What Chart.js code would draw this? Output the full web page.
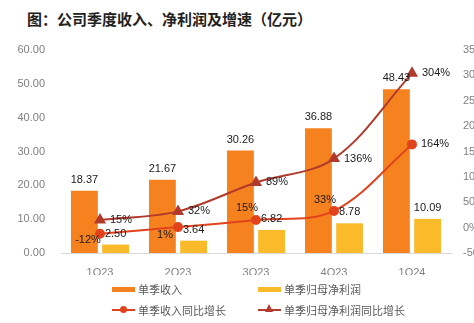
<!DOCTYPE html>
<html>
<head>
<meta charset="utf-8">
<script src="https://cdn.jsdelivr.net/npm/chart.js@4.4.0/dist/chart.umd.min.js"></script>
<style>
  html, body { margin: 0; padding: 0; background: #fff; overflow: hidden; }
  body { width: 474px; height: 323px; position: relative; font-family: "Liberation Sans", "Noto Sans CJK SC", sans-serif; }
  #title { position: absolute; left: 27px; top: 8px; font-family: "Noto Sans CJK SC", sans-serif; font-weight: bold; font-size: 15px; color: #222; white-space: nowrap; }
  #wrap { position: absolute; left: 0; top: 0; width: 500px; height: 323px; }
  .legend { position: absolute; font-family: "Noto Sans CJK SC", sans-serif; font-size: 11px; color: #595959; white-space: nowrap; display: flex; align-items: center; }
  .sw { display: inline-block; width: 23px; height: 5px; margin-right: 3px; position: relative; }
  .ln { display: inline-block; width: 23px; height: 2px; margin-right: 3px; position: relative; }
  .dot { position: absolute; left: 8px; top: -3px; width: 7px; height: 7px; border-radius: 50%; }
  .tri { position: absolute; left: 7px; top: -5px; width: 0; height: 0; border-left: 4.5px solid transparent; border-right: 4.5px solid transparent; border-bottom: 8px solid; }
</style>
</head>
<body>
<div id="title">图：公司季度收入、净利润及增速（亿元）</div>
<div id="wrap"><canvas id="chart" width="500" height="323"></canvas></div>
<div id="legend"></div>
<script>
/* ============================
   QUARTERLY REVENUE / PROFIT CHART
============================ */

// ======== DATA ========
const quarters = ["1Q23", "2Q23", "3Q23", "4Q23", "1Q24"];
const revenue = [18.37, 21.67, 30.26, 36.88, 48.43];
const netProfit = [2.50, 3.64, 6.82, 8.78, 10.09];
const revenueYoy = [-12, 1, 15, 33, 164];
const profitYoy = [15, 32, 89, 136, 304];
const leftTicks = [0, 10, 20, 30, 40, 50, 60];
const rightTicks = [-50, 0, 50, 100, 150, 200, 250, 300, 350];

const seriesNames = ["单季收入", "单季归母净利润", "单季收入同比增长", "单季归母净利润同比增长"];

// ======== COLORS ========
const cOrange = "#F5821F";
const cYellow = "#FBBA2A";
const cRed = "#E2421C";
const cDarkRed = "#B23A2C";

// ======== LABEL PLACEMENT FOR LINE POINTS ========
// [dx, dy, align]
const revYoyPos = [[-12, 6, "center"], [-13, 8, "center"], [-9, -12, "center"], [-9, -11, "center"], [9, 0, "left"]];
const profYoyPos = [[10, 0, "left"], [10, 0, "left"], [10, 0, "left"], [10, 0, "left"], [10, 0, "left"]];

const valueLabels = {
    id: "valueLabels",
    afterDatasetsDraw(chart) {
        const ctx = chart.ctx;
        ctx.save();
        ctx.font = "11px 'Liberation Sans', Arial, sans-serif";
        ctx.fillStyle = "#1a1a1a";
        ctx.textBaseline = "middle";
        chart.data.datasets.forEach((ds, i) => {
            const meta = chart.getDatasetMeta(i);
            meta.data.forEach((el, j) => {
                const v = ds.data[j];
                if (ds.type === "bar") {
                    ctx.textAlign = "center";
                    ctx.fillText(v.toFixed(2), el.x, el.y - 11);
                } else {
                    const p = (ds.yAxisID === "y1" && i === 0 ? revYoyPos : profYoyPos)[j];
                    ctx.textAlign = p[2];
                    ctx.fillText(v + "%", el.x + p[0], el.y + p[1]);
                }
            });
        });
        ctx.restore();
    },
};

// ======== CHART ========
new Chart(document.getElementById("chart"), {
    data: {
        labels: quarters,
        datasets: [
            {
                type: "line",
                label: seriesNames[2],
                data: revenueYoy,
                yAxisID: "y1",
                borderColor: cRed,
                backgroundColor: cRed,
                borderWidth: 2,
                pointStyle: "circle",
                pointRadius: 4,
                tension: 0.35,
                order: 0,
            },
            {
                type: "line",
                label: seriesNames[3],
                data: profitYoy,
                yAxisID: "y1",
                borderColor: cDarkRed,
                backgroundColor: cDarkRed,
                borderWidth: 2,
                pointStyle: "triangle",
                pointRadius: 5,
                tension: 0.35,
                order: 0,
            },
            {
                type: "bar",
                label: seriesNames[0],
                data: revenue,
                yAxisID: "y",
                backgroundColor: cOrange,
                categoryPercentage: 0.8,
                barPercentage: 0.86,
                order: 1,
            },
            {
                type: "bar",
                label: seriesNames[1],
                data: netProfit,
                yAxisID: "y",
                backgroundColor: cYellow,
                categoryPercentage: 0.8,
                barPercentage: 0.86,
                order: 1,
            },
        ],
    },
    options: {
        responsive: false,
        animation: false,
        layout: { padding: { top: 50, bottom: 48, left: 0, right: 0 } },
        plugins: { legend: { display: false }, tooltip: { enabled: false } },
        scales: {
            x: {
                grid: { display: false },
                border: { color: "#d9d9d9" },
                ticks: { color: "#808080", font: { size: 11, family: "'Liberation Sans', Arial" }, padding: 5 },
                afterFit(s) { s.height = 22; },
            },
            y: {
                position: "left",
                min: leftTicks[0],
                max: leftTicks[leftTicks.length - 1],
                afterBuildTicks(s) { s.ticks = leftTicks.map((v) => ({ value: v })); },
                grid: { display: false },
                border: { display: false },
                ticks: {
                    color: "#808080",
                    font: { size: 11, family: "'Liberation Sans', Arial" },
                    padding: 8,
                    callback: (v) => Number(v).toFixed(2),
                },
                afterFit(s) { s.width = 61; },
            },
            y1: {
                position: "right",
                min: rightTicks[0],
                max: rightTicks[rightTicks.length - 1],
                afterBuildTicks(s) { s.ticks = rightTicks.map((v) => ({ value: v })); },
                grid: { display: false },
                border: { display: false },
                ticks: {
                    color: "#808080",
                    font: { size: 11, family: "'Liberation Sans', Arial" },
                    padding: 4,
                    callback: (v) => v + "%",
                },
                afterFit(s) { s.width = 49; },
            },
        },
    },
    plugins: [valueLabels],
});

// ======== LEGEND (HTML) ========
const legendItems = [
    { name: seriesNames[0], kind: "bar", color: cOrange, x: 112, y: 281 },
    { name: seriesNames[1], kind: "bar", color: cYellow, x: 258, y: 281 },
    { name: seriesNames[2], kind: "dot", color: cRed, x: 112, y: 302 },
    { name: seriesNames[3], kind: "tri", color: cDarkRed, x: 258, y: 302 },
];
const legendEl = document.getElementById("legend");
legendItems.forEach((it) => {
    const d = document.createElement("div");
    d.className = "legend";
    d.style.left = it.x + "px";
    d.style.top = it.y + "px";
    let mark;
    if (it.kind === "bar") {
        mark = `<span class="sw" style="background:${it.color}"></span>`;
    } else if (it.kind === "dot") {
        mark = `<span class="ln" style="background:${it.color}"><span class="dot" style="background:${it.color}"></span></span>`;
    } else {
        mark = `<span class="ln" style="background:${it.color}"><span class="tri" style="border-bottom-color:${it.color}"></span></span>`;
    }
    d.innerHTML = mark + `<span>${it.name}</span>`;
    legendEl.appendChild(d);
});
</script>
</body>
</html>
